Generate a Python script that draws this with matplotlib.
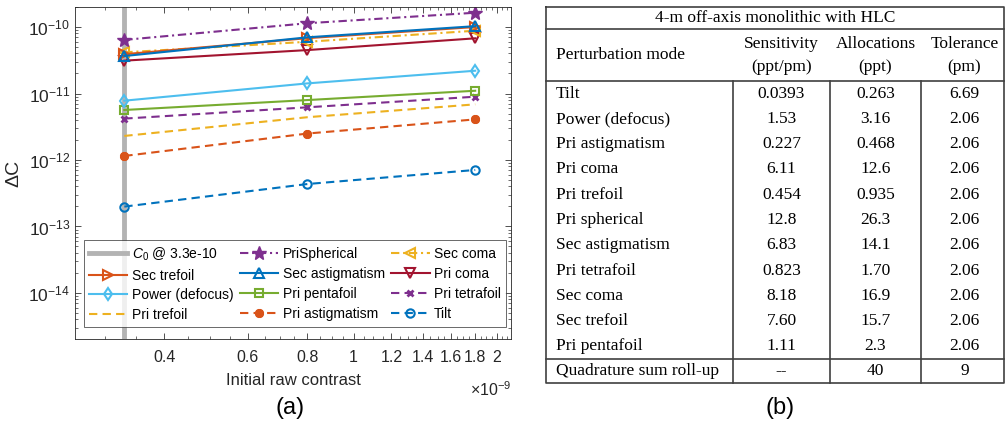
import numpy as np
import matplotlib
matplotlib.use("Agg")
import matplotlib.pyplot as plt
from matplotlib.ticker import FixedLocator, NullFormatter, LogLocator

plt.rcParams['font.family'] = ['Liberation Sans', 'DejaVu Sans']
plt.rcParams['mathtext.fontset'] = 'custom'
plt.rcParams['mathtext.rm'] = 'Liberation Sans'
plt.rcParams['mathtext.it'] = 'Liberation Sans:italic'

# ---------------- data ----------------
contrast = [3.3e-10, 8.0e-10, 1.8e-9]
c0 = 3.3e-10

pri_spherical = [6.4e-11, 1.14e-10, 1.64e-10]
sec_coma = [4.16e-11, 6.0e-11, 8.8e-11]
sec_trefoil = [3.9e-11, 6.8e-11, 1.0e-10]
sec_astig = [3.66e-11, 7.0e-11, 1.03e-10]
pri_coma = [3.12e-11, 4.5e-11, 6.76e-11]
power = [7.8e-12, 1.42e-11, 2.2e-11]
pri_pentafoil = [5.65e-12, 7.97e-12, 1.1e-11]
pri_tetrafoil = [4.19e-12, 6.2e-12, 8.95e-12]
pri_trefoil = [2.3e-12, 4.4e-12, 6.87e-12]
pri_astig = [1.15e-12, 2.5e-12, 4.08e-12]
tilt = [1.99e-13, 4.35e-13, 7.08e-13]

xtick_vals = [0.4, 0.6, 0.8, 1, 1.2, 1.4, 1.6, 1.8, 2]
xtick_labels = ['0.4', '0.6', '0.8', '1', '1.2', '1.4', '1.6', '1.8', '2']
ytick_vals = [1e-14, 1e-13, 1e-12, 1e-11, 1e-10]

table_title = "4-m off-axis monolithic with HLC"
table_header1 = ["Perturbation mode", "Sensitivity", "Allocations", "Tolerance"]
table_header2 = ["", "(ppt/pm)", "(ppt)", "(pm)"]
table_modes = ["Tilt", "Power (defocus)", "Pri astigmatism", "Pri coma", "Pri trefoil",
               "Pri spherical", "Sec astigmatism", "Pri tetrafoil", "Sec coma",
               "Sec trefoil", "Pri pentafoil"]
table_sens = ["0.0393", "1.53", "0.227", "6.11", "0.454", "12.8", "6.83", "0.823",
              "8.18", "7.60", "1.11"]
table_alloc = ["0.263", "3.16", "0.468", "12.6", "0.935", "26.3", "14.1", "1.70",
               "16.9", "15.7", "2.3"]
table_tol = ["6.69", "2.06", "2.06", "2.06", "2.06", "2.06", "2.06", "2.06",
             "2.06", "2.06", "2.06"]
table_total = ["Quadrature sum roll-up", "--", "40", "9"]

# ---------------- figure ----------------
W, H = 1006, 428
fig = plt.figure(figsize=(W / 100, H / 100), dpi=100)

def px_rect(l, t, r, b):
    return [l / W, 1 - b / H, (r - l) / W, (b - t) / H]

ax = fig.add_axes(px_rect(75, 7, 511, 339))

BLUE = '#0072BD'; ORANGE = '#D95319'; YELLOW = '#EDB120'; PURPLE = '#7E2F8E'
GREEN = '#77AC30'; LBLUE = '#4DBEEE'; DRED = '#A2142F'
lw = 1.5
dash = (4, 2.5)
dashdot = (4, 1.8, 1, 1.8)
ms = 6.5

h_c0 = ax.axvline(c0, color='#B3B3B3', lw=3.5, zorder=1, label=r'$C_0$ @ 3.3e-10')

h_tilt, = ax.plot(contrast, tilt, color=BLUE, lw=lw, dashes=dash, marker='o', ms=6,
                  mfc='none', mew=1.5, label='Tilt')
h_pastig, = ax.plot(contrast, pri_astig, color=ORANGE, lw=lw, dashes=dash, marker=(8, 2, 0),
                    ms=6.5, mew=2.0, label='Pri astigmatism')
h_ptref, = ax.plot(contrast, pri_trefoil, color=YELLOW, lw=lw, dashes=dash, label='Pri trefoil')
h_ptetra, = ax.plot(contrast, pri_tetrafoil, color=PURPLE, lw=lw, dashes=dash, marker='x',
                    ms=5, mew=2, label='Pri tetrafoil')
h_ppenta, = ax.plot(contrast, pri_pentafoil, color=GREEN, lw=lw, marker='s', ms=5.5,
                    mfc='none', mew=1.5, label='Pri pentafoil')
h_power, = ax.plot(contrast, power, color=LBLUE, lw=lw, marker='d', ms=ms,
                   mfc='none', mew=1.5, label='Power (defocus)')
h_pcoma, = ax.plot(contrast, pri_coma, color=DRED, lw=lw, marker='v', ms=ms,
                   mfc='none', mew=1.5, label='Pri coma')
h_scoma, = ax.plot(contrast, sec_coma, color=YELLOW, lw=lw, dashes=dashdot, marker='<', ms=ms,
                   mfc='none', mew=1.5, label='Sec coma')
h_stref, = ax.plot(contrast, sec_trefoil, color=ORANGE, lw=lw, marker='>', ms=ms,
                   mfc='none', mew=1.5, label='Sec trefoil')
h_sastig, = ax.plot(contrast, sec_astig, color=BLUE, lw=lw, marker='^', ms=ms,
                    mfc='none', mew=1.5, label='Sec astigmatism')
h_psph, = ax.plot(contrast, pri_spherical, color=PURPLE, lw=lw, dashes=dashdot, marker='*',
                  ms=10, label='PriSpherical')

ax.set_xscale('log')
ax.set_yscale('log')
ax.set_xlim(2.6e-10, 2.14e-9)
ax.set_ylim(2.03e-15, 2.0e-10)

ax.xaxis.set_major_locator(FixedLocator([v * 1e-9 for v in xtick_vals]))
ax.set_xticklabels(xtick_labels)
ax.xaxis.set_minor_locator(FixedLocator(np.arange(0.3, 2.11, 0.05) * 1e-9))
ax.xaxis.set_minor_formatter(NullFormatter())
ax.set_yticks(ytick_vals)
ax.set_yticklabels([r'$10^{%d}$' % int(round(np.log10(v))) for v in ytick_vals])
ax.yaxis.set_minor_locator(LogLocator(base=10, subs=np.arange(2, 10), numticks=20))
ax.yaxis.set_minor_formatter(NullFormatter())

ax.tick_params(which='both', direction='in', top=True, right=True, labelsize=11.5,
               color='#333333', labelcolor='#262626')
ax.tick_params(axis='y', labelsize=12.5)
ax.tick_params(axis='x', pad=8)
ax.tick_params(which='major', length=4, width=0.6)
ax.tick_params(which='minor', length=2, width=0.5)
for s in ax.spines.values():
    s.set_color('#262626')
    s.set_linewidth(0.6)

ax.set_xlabel('Initial raw contrast', fontsize=12, color='#262626', labelpad=6)
ax.set_ylabel('ΔC', fontsize=14, color='#262626', labelpad=4)
ax.text(1.0, -0.125, r'$\times10^{-9}$', transform=ax.transAxes, ha='right', va='top',
        fontsize=11.5, color='#262626')

handles = [h_c0, h_stref, h_power, h_ptref,
           h_psph, h_sastig, h_ppenta, h_pastig,
           h_scoma, h_pcoma, h_ptetra, h_tilt]
leg = ax.legend(handles=handles, labels=[h.get_label() for h in handles], ncol=3,
                loc='lower left', bbox_to_anchor=(0.02, 0.036), borderaxespad=0,
                fontsize=10, handlelength=2.8, columnspacing=0.45, handletextpad=0.3,
                labelspacing=0.42, frameon=True, fancybox=False, borderpad=0.35)
leg.get_frame().set_edgecolor('#262626')
leg.get_frame().set_linewidth(0.6)

# ---------------- table (pixel coordinates) ----------------
tax = fig.add_axes([0, 0, 1, 1])
tax.set_xlim(0, W)
tax.set_ylim(H, 0)
tax.axis('off')

LC = '#404040'
tl, tr, tt, tb = 546, 1004, 7, 383
y_title, y_head, y_total = 29, 81, 359
col_x = [733, 830, 921]
lwt = 1.2

tax.plot([tl, tr, tr, tl, tl], [tt, tt, tb, tb, tt], color=LC, lw=lwt)
for yy in (y_title, y_head, y_total):
    tax.plot([tl, tr], [yy, yy], color=LC, lw=lwt)
for xx in col_x:
    tax.plot([xx, xx], [y_head, tb], color=LC, lw=lwt)

serif = ['Liberation Serif', 'DejaVu Serif']
fs = 12.5
centers = [(col_x[0] + col_x[1]) / 2, (col_x[1] + col_x[2]) / 2, (col_x[2] + tr) / 2 + 2]
tax.text((tl + tr) / 2, (tt + y_title) / 2, table_title, family=serif, fontsize=fs,
         ha='center', va='center')
tax.text(556, 55, table_header1[0], family=serif, fontsize=fs, ha='left', va='center')
for i in range(3):
    tax.text(centers[i], 44, table_header1[i + 1], family=serif, fontsize=fs,
             ha='center', va='center')
    tax.text(centers[i], 67, table_header2[i + 1], family=serif, fontsize=fs,
             ha='center', va='center')

rh = (y_total - y_head) / len(table_modes)
for r in range(len(table_modes)):
    yc = y_head + (r + 0.5) * rh
    tax.text(556, yc, table_modes[r], family=serif, fontsize=fs, ha='left', va='center')
    for i, col in enumerate([table_sens, table_alloc, table_tol]):
        tax.text(centers[i], yc, col[r], family=serif, fontsize=fs, ha='center', va='center')
yc = (y_total + tb) / 2
tax.text(556, yc, table_total[0], family=serif, fontsize=fs, ha='left', va='center')
for i in range(3):
    tax.text(centers[i], yc, table_total[i + 1], family=serif, fontsize=fs,
             ha='center', va='center')

tax.text(290, 408, '(a)', fontsize=17, ha='center', va='center')
tax.text(780, 408, '(b)', fontsize=17, ha='center', va='center')

fig.savefig('out.png', dpi=100)
